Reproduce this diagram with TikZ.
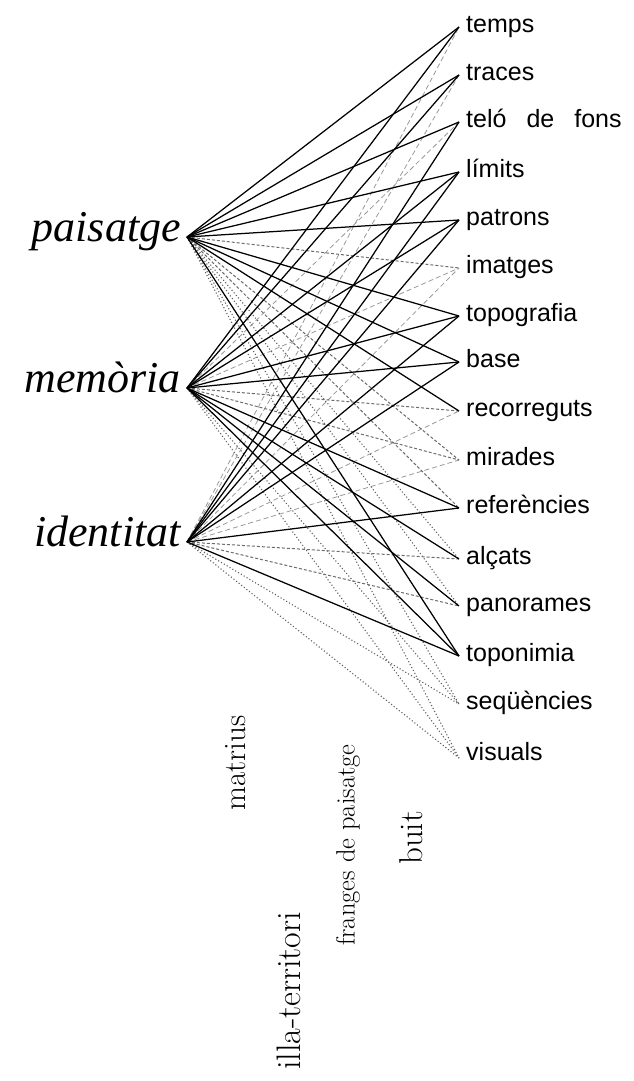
\documentclass[tikz,border=0pt]{standalone}
\usepackage{fontspec}
\setsansfont{Liberation Sans}
\newfontfamily\leftserif{Liberation Serif}
\begin{document}
\begin{tikzpicture}[x=1pt,y=-1pt,
  solidl/.style={black, line width=1.25pt},
  dashl/.style={black!58, line width=1pt, dash pattern=on 3pt off 2pt},
  lightl/.style={black!40, line width=0.8pt, dash pattern=on 5pt off 3pt},
  dotl/.style={black!62, line width=1.1pt, dash pattern=on 1.1pt off 2.2pt},
  lefttxt/.style={font=\leftserif\fontsize{44}{50}\selectfont\itshape, inner sep=0pt, anchor=mid east},
  righttxt/.style={font=\sffamily\fontsize{25}{30}\selectfont, inner sep=0pt, anchor=mid west},
  bottxt/.style={font=\fontsize{32}{38}\selectfont, inner sep=0pt, rotate=90}]
\useasboundingbox (0,0) rectangle (633,1081);
% left points
\coordinate (P) at (187,237);
\coordinate (M) at (187,388);
\coordinate (I) at (187,542);
\node[lefttxt] (pl) at (181,239) {paisatge};
\node[lefttxt] (ml) at (181,390) {memòria};
\node[lefttxt] (il) at (181,544) {identitat};
% right points
\foreach \n/\y in {1/27,2/75,3/122,4/172,5/220,6/268,7/316,8/362,9/411,10/460,11/508,12/559,13/606,14/656,15/704,16/758}
  \coordinate (r\n) at (459,\y);
\node[righttxt] (t1) at (466,30) {temps};
\node[righttxt] (t2) at (466,78) {traces};
\node[righttxt] (t3) at (466,125) {teló\hspace{0.8em}de\hspace{0.8em}fons};
\node[righttxt] (t4) at (466,175) {límits};
\node[righttxt] (t5) at (466,223) {patrons};
\node[righttxt] (t6) at (466,271) {imatges};
\node[righttxt] (t7) at (466,319) {topografia};
\node[righttxt] (t8) at (466,365) {base};
\node[righttxt] (t9) at (466,414) {recorreguts};
\node[righttxt] (t10) at (466,463) {mirades};
\node[righttxt] (t11) at (466,511) {referències};
\node[righttxt] (t12) at (466,562) {alçats};
\node[righttxt] (t13) at (466,609) {panorames};
\node[righttxt] (t14) at (466,659) {toponimia};
\node[righttxt] (t15) at (466,707) {seqüències};
\node[righttxt] (t16) at (466,758) {visuals};
% bottom labels
\node[bottxt, font=\fontsize{31}{36}\selectfont] (b1) at (236,763) {matrius};
\node[bottxt, font=\fontsize{34}{40}\selectfont] (b2) at (289,991) {illa-territori};
\node[bottxt, font=\fontsize{26.5}{32}\selectfont] (b3) at (348,845) {franges de paisatge};
\node[bottxt, font=\fontsize{33}{38}\selectfont] (b4) at (411,838) {buit};
% connectors: light, dotted, dashed, solid
\foreach \s/\t in {I/r1,I/r2,M/r3,M/r6,I/r6,I/r9,I/r10}
  \draw[lightl] (\s) -- (\t);
\foreach \s/\t in {P/r12,P/r13,P/r15,M/r15,I/r15,P/r16,M/r16,I/r16}
  \draw[dotl] (\s) -- (\t);
\foreach \s/\t in {P/r6,M/r9,P/r10,M/r10,P/r11,I/r12,I/r13}
  \draw[dashl] (\s) -- (\t);
\foreach \s/\t in {P/r1,P/r2,P/r3,P/r4,P/r5,P/r7,P/r8,P/r9,P/r14,
                   M/r1,M/r2,M/r4,M/r5,M/r7,M/r8,M/r11,M/r12,M/r13,M/r14,
                   I/r3,I/r4,I/r5,I/r7,I/r8,I/r11,I/r14}
  \draw[solidl] (\s) -- (\t);
\end{tikzpicture}
\end{document}
